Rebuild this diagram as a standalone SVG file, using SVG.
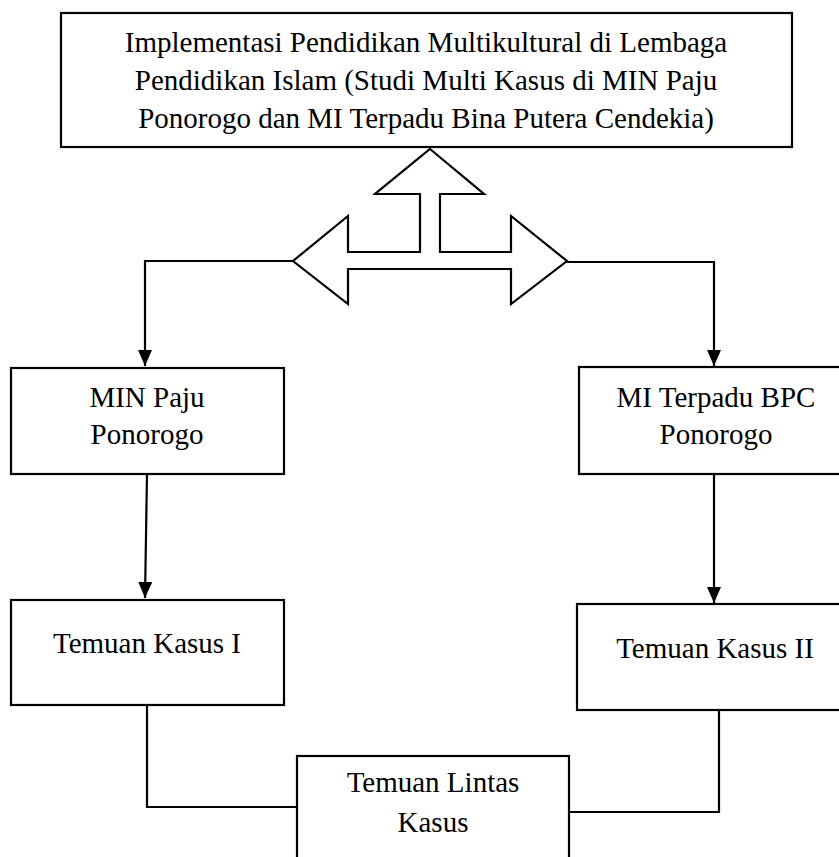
<svg xmlns="http://www.w3.org/2000/svg" width="839" height="857" viewBox="0 0 839 857">
<style>
.box{fill:#fff;stroke:#000;stroke-width:2.2}
.t{font-family:"Liberation Serif","Times New Roman",serif;font-size:29px;fill:#000;text-anchor:middle}
.ln{fill:none;stroke:#000;stroke-width:2.2}
</style>
<defs>
<marker id="ah" viewBox="0 0 16 14" refX="16" refY="7" markerWidth="16" markerHeight="14" markerUnits="userSpaceOnUse" orient="auto">
<path d="M0,0 L16,7 L0,14 Z" fill="#000"/>
</marker>
</defs>
<rect width="839" height="857" fill="#fff"/>
<g id="connectors">
<polygon class="ln" points="430,149 484,194 440,194 440,252 511,252 511,216 567,261 511,304 511,269 348,269 348,304 293,261 348,216 348,252 420,252 420,194 375,194"/>
<path class="ln" d="M293,261 L145,261 L145,366" marker-end="url(#ah)"/>
<path class="ln" d="M567,262 L714,262 L714,366" marker-end="url(#ah)"/>
<path class="ln" d="M147,474 L145,598" marker-end="url(#ah)"/>
<path class="ln" d="M714,474 L714,603" marker-end="url(#ah)"/>
<path class="ln" d="M147,705 L147,807 L297,807"/>
<path class="ln" d="M719,711 L719,812 L569,812"/>
</g>
<g id="n-main">
<rect class="box" x="61" y="13" width="731" height="134"/>
<text class="t" x="426" y="52">Implementasi Pendidikan Multikultural di Lembaga</text>
<text class="t" x="426" y="90">Pendidikan Islam (Studi Multi Kasus di MIN Paju</text>
<text class="t" x="426" y="128">Ponorogo dan MI Terpadu Bina Putera Cendekia)</text>
</g>
<g id="n-min">
<rect class="box" x="11" y="368" width="273" height="106"/>
<text class="t" x="147" y="407">MIN Paju</text>
<text class="t" x="147" y="444">Ponorogo</text>
</g>
<g id="n-mit">
<rect class="box" x="579" y="367" width="275" height="107"/>
<text class="t" x="716" y="407">MI Terpadu BPC</text>
<text class="t" x="716" y="444">Ponorogo</text>
</g>
<g id="n-k1">
<rect class="box" x="11" y="600" width="273" height="105"/>
<text class="t" x="147" y="653">Temuan Kasus I</text>
</g>
<g id="n-k2">
<rect class="box" x="577" y="604" width="276" height="106"/>
<text class="t" x="715" y="658">Temuan Kasus II</text>
</g>
<g id="n-lintas">
<rect class="box" x="297" y="756" width="272" height="120"/>
<text class="t" x="433" y="792">Temuan Lintas</text>
<text class="t" x="433" y="832">Kasus</text>
</g>
</svg>
